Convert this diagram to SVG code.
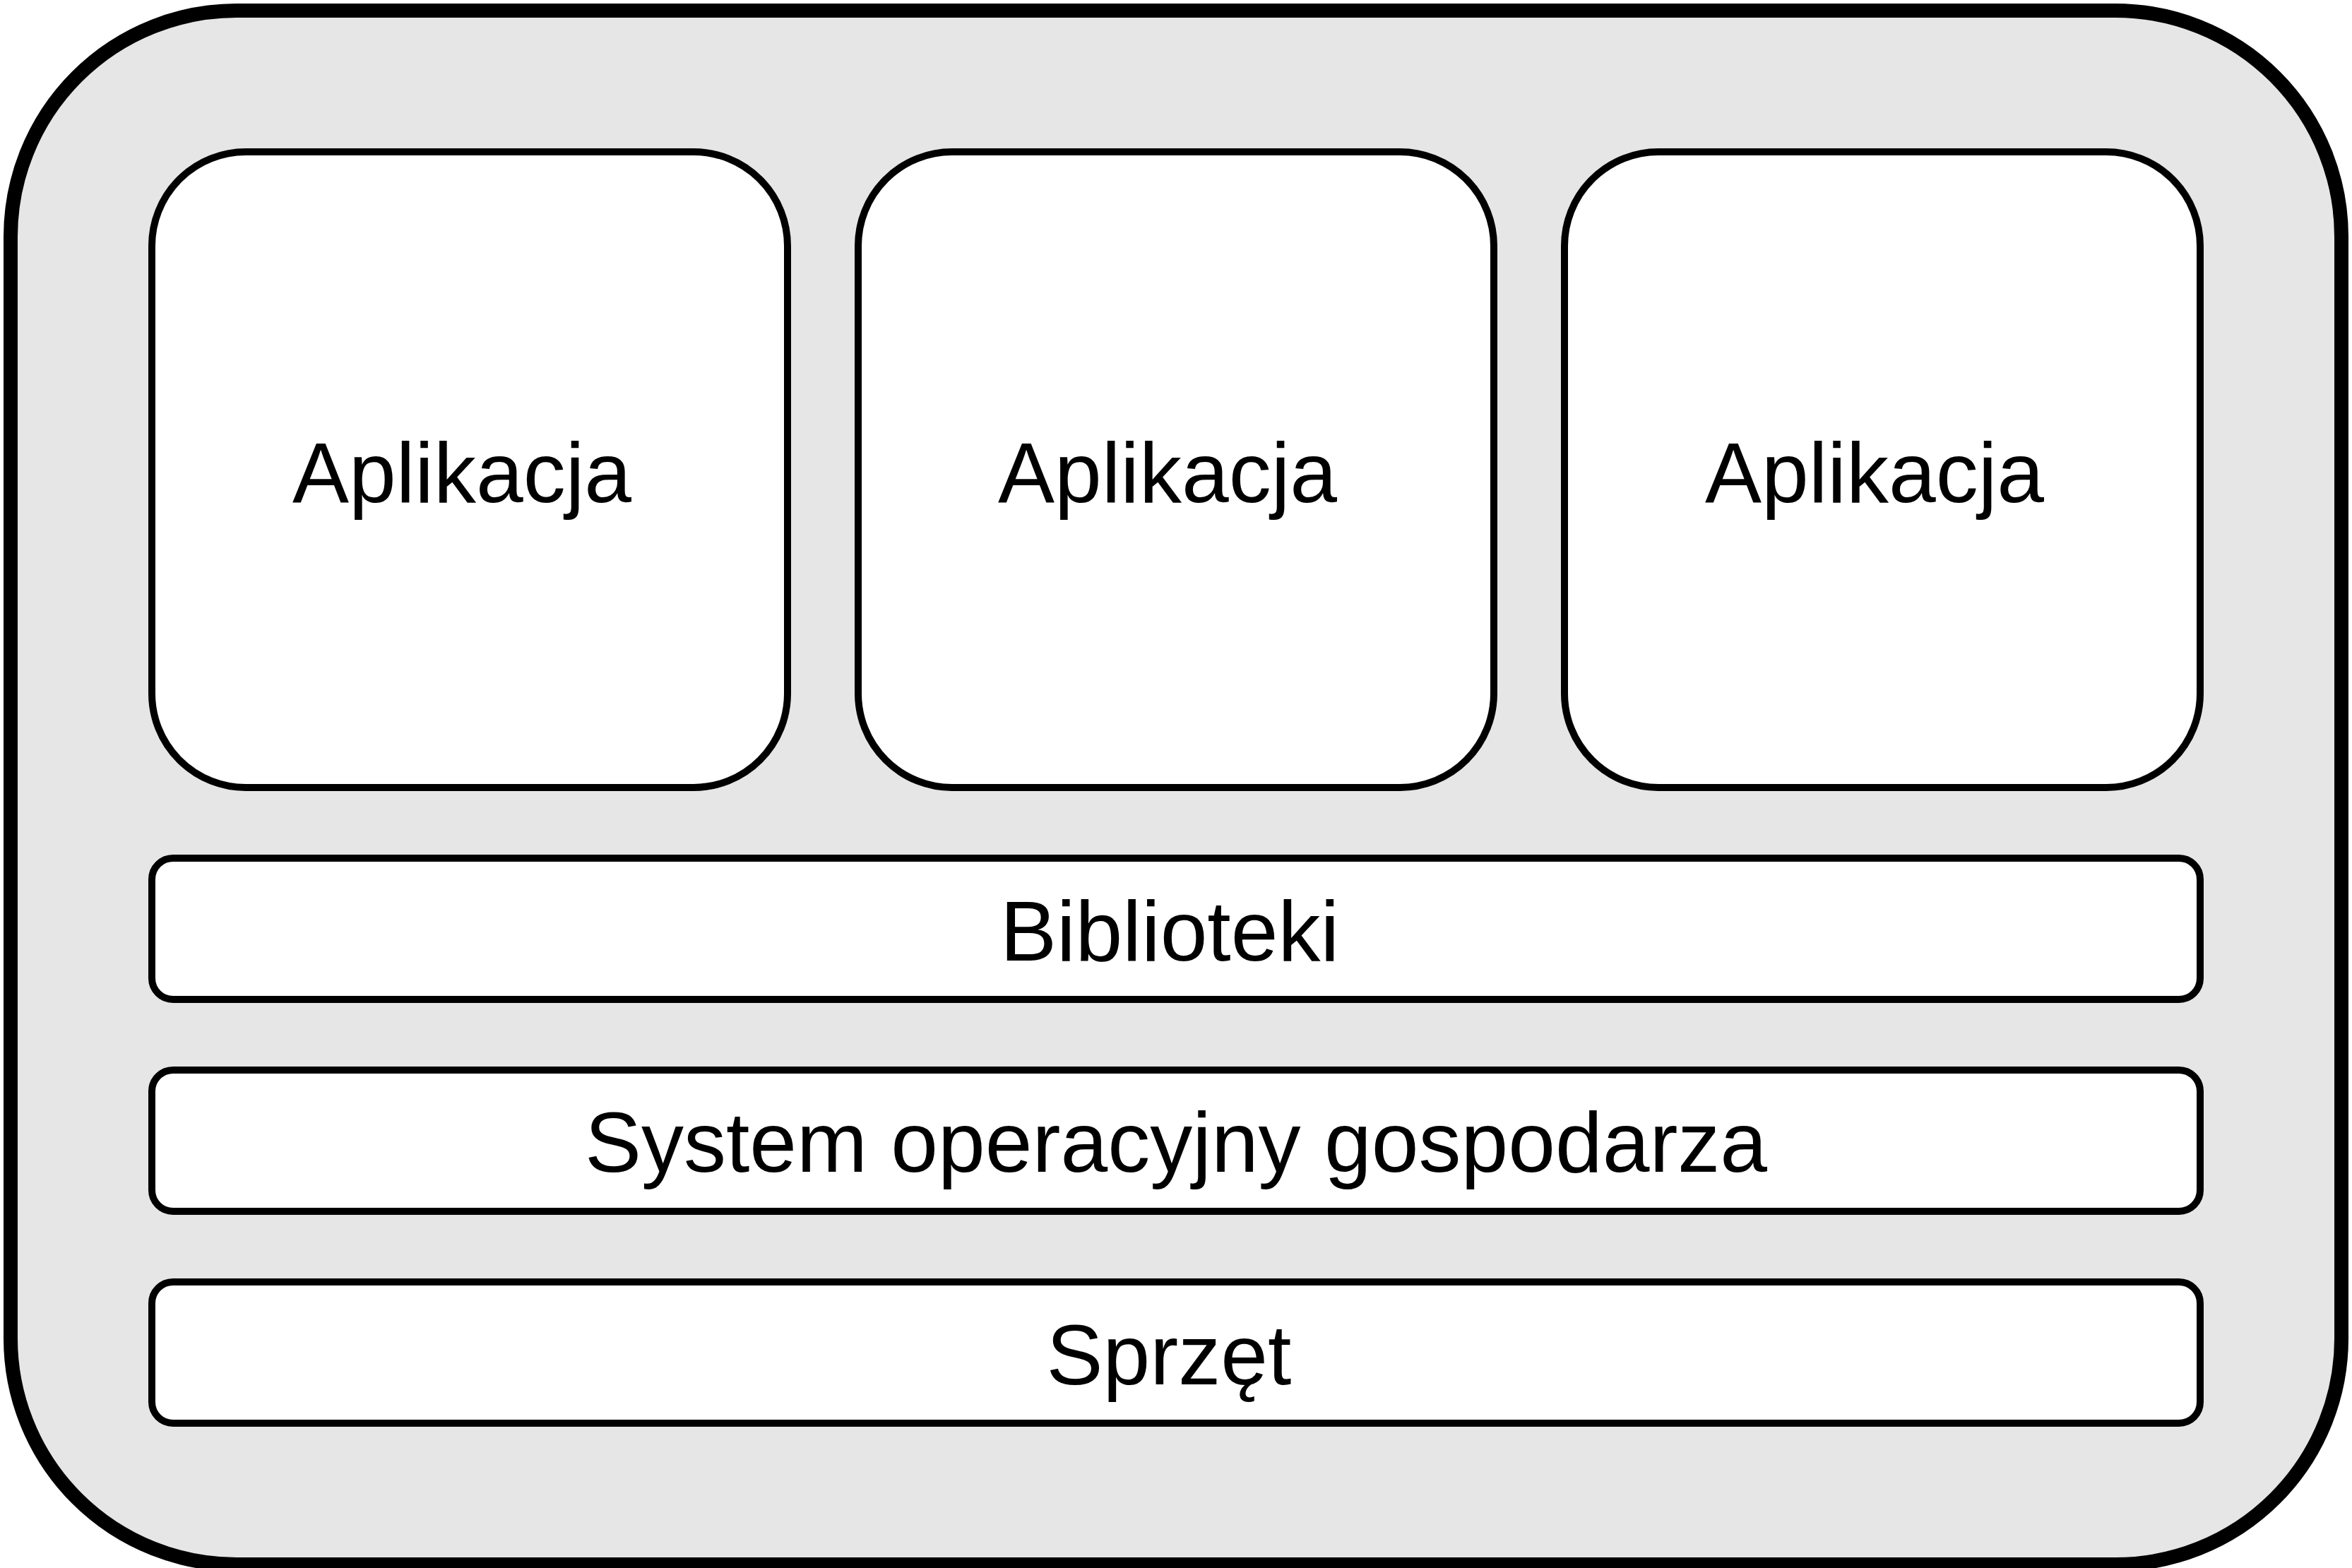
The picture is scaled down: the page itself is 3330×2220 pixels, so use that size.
<svg xmlns="http://www.w3.org/2000/svg" width="3330" height="2220" viewBox="0 0 3330 2220">
<style>
.outer{fill:#e6e6e6;stroke:#000;stroke-width:20}
.box{fill:#fff;stroke:#000;stroke-width:10}
.lbl{font-family:"Liberation Sans",Arial,sans-serif;font-size:120px;fill:#000;text-anchor:middle}
</style>
<rect width="3330" height="2220" fill="#fff"/>
<g id="container">
<rect class="outer" x="15" y="15" width="3300" height="2200" rx="320" ry="320"/>
</g>
<g id="app1">
<rect class="box" x="215" y="215" width="900" height="900" rx="133" ry="133"/>
<text class="lbl" x="654" y="711">Aplikacja</text>
</g>
<g id="app2">
<rect class="box" x="1215" y="215" width="900" height="900" rx="133" ry="133"/>
<text class="lbl" x="1653" y="711">Aplikacja</text>
</g>
<g id="app3">
<rect class="box" x="2215" y="215" width="900" height="900" rx="133" ry="133"/>
<text class="lbl" x="2654" y="711">Aplikacja</text>
</g>
<g id="libs">
<rect class="box" x="215" y="1215" width="2900" height="200" rx="30" ry="30"/>
<text class="lbl" x="1656" y="1360">Biblioteki</text>
</g>
<g id="hostos">
<rect class="box" x="215" y="1515" width="2900" height="200" rx="30" ry="30"/>
<text class="lbl" x="1665" y="1659">System operacyjny gospodarza</text>
</g>
<g id="hardware">
<rect class="box" x="215" y="1815" width="2900" height="200" rx="30" ry="30"/>
<text class="lbl" x="1655" y="1960">Sprzęt</text>
</g>
<g id="connectors"></g>
</svg>
